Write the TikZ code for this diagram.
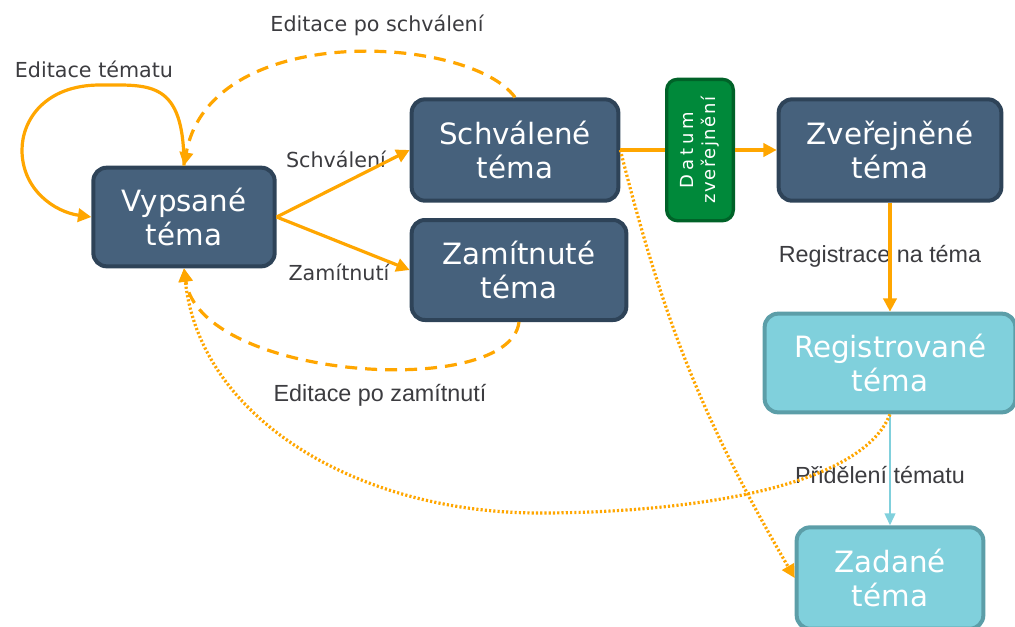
\documentclass[tikz,border=0pt]{standalone}
\usepackage{fontspec}
\setmainfont{DejaVu Sans}
\newfontfamily\narrowfont{Liberation Sans}
\usetikzlibrary{arrows.meta}
\definecolor{topicblue}{RGB}{70,97,124}
\definecolor{topicedge}{RGB}{46,67,88}
\definecolor{topiccyan}{RGB}{128,208,220}
\definecolor{cyanedge}{RGB}{92,158,168}
\definecolor{gategreen}{RGB}{0,137,58}
\definecolor{gateedge}{RGB}{0,98,40}
\definecolor{floworange}{RGB}{255,166,0}
\definecolor{labelgray}{RGB}{60,60,64}

\begin{document}
\begin{tikzpicture}[x=0.75pt,y=0.75pt,
    state/.style={
      rectangle, rounded corners=10pt, draw=topicedge, line width=3pt, fill=topicblue,
      text=white, align=center, inner sep=2pt,
      font=\fontsize{22}{26}\selectfont
    },
    regstate/.style={state, draw=cyanedge, fill=topiccyan},
    gate/.style={
      rectangle, rounded corners=8pt, draw=gateedge, line width=2.5pt, fill=gategreen,
      text=white, align=center, rotate=90, inner sep=1pt,
      minimum width=106pt, minimum height=50pt,
      font=\fontsize{13.5}{16.5}\selectfont
    },
    lbl/.style={font=\fontsize{15.5}{18}\selectfont, text=labelgray},
    lblnarrow/.style={font=\narrowfont\fontsize{17.5}{20}\selectfont, text=labelgray},
    flow/.style={-{Triangle[length=10pt,width=10pt]}, line width=2.4pt, draw=floworange},
    back/.style={flow, dash pattern=on 9pt off 6pt},
    jump/.style={flow, dash pattern=on 1.6pt off 1.6pt},
    assign/.style={-{Triangle[length=9pt,width=8pt]}, line width=1.6pt, draw=topiccyan}
  ]
    \useasboundingbox (0,0) rectangle (1015,-626);

    % states
    \node[state, minimum width=136pt, minimum height=74pt] (vyp) at (184,-217) {Vypsané\\téma};
    \node[state, minimum width=155pt, minimum height=76pt] (sch) at (515,-150) {Schválené\\téma};
    \node[state, minimum width=161pt, minimum height=75pt] (zam) at (519,-270) {Zamítnuté\\téma};
    \node[state, minimum width=167pt, minimum height=76pt] (zve) at (890,-150) {Zveřejněné\\téma};
    \node[regstate, minimum width=188pt, minimum height=74pt] (reg) at (890,-363) {Registrované\\téma};
    \node[regstate, minimum width=140pt, minimum height=76pt] (zad) at (890,-578) {Zadané\\téma};
    \node[gate] (datum) at (700,-150)
      {{\addfontfeature{LetterSpace=22}Datum}\\{\addfontfeature{LetterSpace=8}zveřejnění}};

    % labels
    \node[lbl] (l-edit) at (94,-69) {Editace tématu};
    \node[lbl] (l-editok) at (377,-25) {Editace po schválení};
    \node[lbl] (l-ok) at (336,-159) {Schválení};
    \node[lbl] (l-no) at (339,-272) {Zamítnutí};
    \node[lblnarrow] (l-editno) at (380,-395) {Editace po zamítnutí};
    \node[lblnarrow] (l-reg) at (880,-256) {Registrace na téma};
    \node[lblnarrow] (l-assign) at (880,-475) {Přidělení tématu};

    % transitions
    \draw[flow] (vyp.north) .. controls (184,-80) and (150,-85) .. (100,-85)
      .. controls (45,-85) and (22,-120) .. (22,-150)
      .. controls (22,-190) and (55,-212) .. (vyp.west);
    \draw[back] (sch.north) .. controls (470,-35) and (210,-20) .. (vyp.north);
    \draw[flow] (vyp.east) -- (sch.west);
    \draw[flow] (vyp.east) -- (zam.west);
    \draw[back] (zam.south) .. controls (510,-400) and (200,-380) .. (vyp.south);
    \draw[line width=2.4pt, draw=floworange] (sch.east) -- (datum.north);
    \draw[flow] (datum.south) -- (zve.west);
    \draw[flow] (zve.south) -- (reg.north);
    \draw[assign] (reg.south) -- (zad.north);
    \draw[jump] (sch.east) to[bend right=8] (zad.west);
    \draw[jump] (reg.south) .. controls (860,-490) and (680,-513) .. (539,-513)
      .. controls (360,-513) and (200,-420) .. (vyp.south);
  \end{tikzpicture}
\end{document}
